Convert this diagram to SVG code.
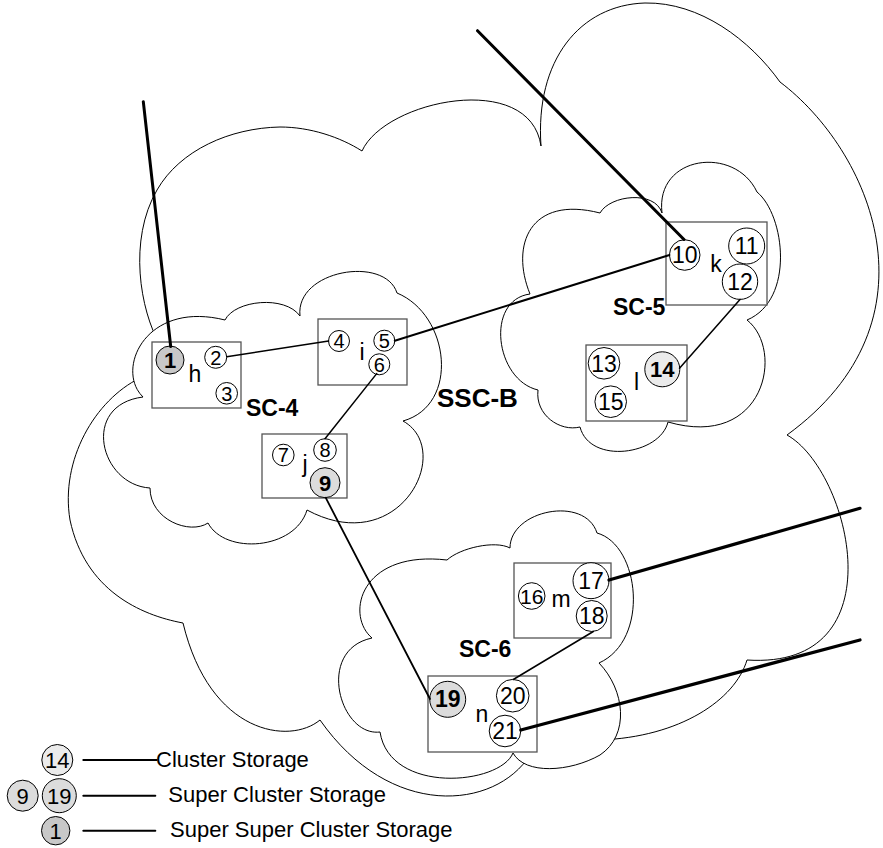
<svg xmlns="http://www.w3.org/2000/svg" width="883" height="848" viewBox="0 0 883 848">
<style>
.cloud{fill:#fff;stroke:#000;stroke-width:1}
.box{fill:#fff;stroke:#555;stroke-width:1.3}
.c{fill:#fff;stroke:#000;stroke-width:1}
.g1{fill:#c8c8c8;stroke:#000;stroke-width:1}
.g2{fill:#dcdcdc;stroke:#000;stroke-width:1}
.g3{fill:#ebebeb;stroke:#000;stroke-width:1}
text{font-family:"Liberation Sans",Arial,sans-serif;fill:#000}
.s{font-size:20px;text-anchor:middle}
.m{font-size:23px;text-anchor:middle}
.b{font-size:22px;font-weight:bold;text-anchor:middle}
.lt{font-size:23px;text-anchor:middle}
.lab{font-size:23px;font-weight:bold}
.leg{font-size:22px}
.lg{font-size:22px;text-anchor:middle}
.ln{stroke:#000;fill:none;stroke-linecap:round}
</style>
<g id="clouds">
<path id="cloud-SSC-B" class="cloud" d="M183,623 C140,615 85,590 70,520 C60,460 95,400 140,378 L160,360 L160,345 C140,310 128,240 157,190 C180,150 230,128 280,127 C310,127 340,137 362,151 C385,100 530,70 541,146 C535,60 580,5 645,3 C700,2 750,40 780,82 C870,150 945,320 787,435 C850,470 900,670 747,660 C735,700 680,737 600,740 L530,755 C495,810 390,820 320,720 C290,745 210,735 183,623 Z"/>
<path id="cloud-SC-4" class="cloud" d="M143,397 C115,370 145,300 225,320 C235,300 285,295 300,316 C295,270 385,255 397,293 C450,315 460,405 403,421 C455,450 400,560 307,510 C295,550 225,555 208,523 C190,535 150,520 150,488 C100,485 80,405 143,397 Z"/>
<path id="cloud-SC-5" class="cloud" d="M530,294 C510,245 530,195 600,213 C610,195 655,190 662,213 C655,155 735,145 757,192 C785,215 795,300 747,320 C785,350 765,450 668,422 C660,455 590,465 580,427 C560,432 535,415 538,390 C495,380 485,300 530,294 Z"/>
<path id="cloud-SC-6" class="cloud" d="M372,638 C345,615 360,550 447,560 C460,548 495,540 510,548 C510,510 585,495 597,533 C640,545 650,640 599,663 C625,690 630,735 600,755 C570,772 525,775 513,753 C500,785 390,795 380,732 C340,737 315,650 372,638 Z"/>
</g>
<g id="labels">
<text class="lab" x="246" y="416">SC-4</text>
<text class="lab" x="613" y="315">SC-5</text>
<text class="lab" x="459" y="657">SC-6</text>
<text class="lab" x="437" y="407" style="font-size:26px">SSC-B</text>
</g>
<g id="node-h">
<rect class="box" x="152" y="342" width="89" height="66"/>
<circle class="g1" cx="170" cy="360" r="14"/><text class="b" x="170" y="367.9">1</text>
<circle class="c" cx="215.7" cy="357.3" r="11"/><text class="s" x="215.7" y="364.5">2</text>
<circle class="c" cx="226.7" cy="393.3" r="10.8"/><text class="s" x="226.7" y="400.5">3</text>
<text class="lt" x="195" y="381.7">h</text>
</g>
<g id="node-i">
<rect class="box" x="318" y="319" width="89" height="66"/>
<circle class="c" cx="339" cy="341" r="10.5"/><text class="s" x="339" y="348.2">4</text>
<circle class="c" cx="384.3" cy="340.7" r="10.5"/><text class="s" x="384.3" y="347.9">5</text>
<circle class="c" cx="379.3" cy="364.3" r="10.5"/><text class="s" x="379.3" y="371.5">6</text>
<text class="lt" x="362" y="360">i</text>
</g>
<g id="node-j">
<rect class="box" x="262" y="434" width="85" height="64"/>
<circle class="c" cx="283.3" cy="455" r="10.8"/><text class="s" x="283.3" y="462.2">7</text>
<circle class="c" cx="325" cy="450" r="11.3"/><text class="s" x="325" y="457.2">8</text>
<circle class="g2" cx="325" cy="482.7" r="15"/><text class="b" x="325" y="490.6">9</text>
<text class="lt" x="305" y="472">j</text>
</g>
<g id="node-k">
<rect class="box" x="666" y="222" width="101" height="83"/>
<circle class="c" cx="684.7" cy="255" r="15.3"/><text class="m" x="684.7" y="263.2">10</text>
<circle class="c" cx="746.7" cy="246" r="18"/><text class="m" x="746.7" y="254.2">11</text>
<circle class="c" cx="740" cy="281.7" r="17.7"/><text class="m" x="740" y="289.9">12</text>
<text class="lt" x="716" y="272">k</text>
</g>
<g id="node-l">
<rect class="box" x="586" y="345" width="101" height="76"/>
<circle class="c" cx="604" cy="363.3" r="15.8"/><text class="m" x="604" y="371.5">13</text>
<circle class="g3" cx="662.3" cy="369.3" r="17.5"/><text class="b" x="662.3" y="377.2">14</text>
<circle class="c" cx="610.7" cy="401.7" r="15.8"/><text class="m" x="610.7" y="409.9">15</text>
<text class="lt" x="636.5" y="390">l</text>
</g>
<g id="node-m">
<rect class="box" x="514" y="563" width="97" height="75"/>
<circle class="c" cx="531.7" cy="596" r="13.3"/><text class="m" x="531.7" y="603.6" style="font-size:21px">16</text>
<circle class="c" cx="591" cy="580.7" r="18"/><text class="m" x="591" y="588.9">17</text>
<circle class="c" cx="591.7" cy="616" r="15.5"/><text class="m" x="591.7" y="624.2">18</text>
<text class="lt" x="561" y="607">m</text>
</g>
<g id="node-n">
<rect class="box" x="428" y="676" width="109" height="76"/>
<circle class="g2" cx="447.7" cy="699.3" r="18"/><text class="b" x="447.7" y="707.4" style="font-size:23px">19</text>
<circle class="c" cx="512.7" cy="695.7" r="16.3"/><text class="m" x="512.7" y="703.9">20</text>
<circle class="c" cx="505" cy="731" r="15.8"/><text class="m" x="505" y="739.2">21</text>
<text class="lt" x="482" y="722">n</text>
</g>
<g id="connectors">
<path class="ln" stroke-width="3" d="M143.3,101.7 L170.7,346.5"/>
<path class="ln" stroke-width="1.5" d="M226.7,356.7 L328.6,341"/>
<path class="ln" stroke-width="2" d="M394.8,340.7 L669.5,255"/>
<path class="ln" stroke-width="3" d="M477.5,30.7 L684,239.5"/>
<path class="ln" stroke-width="1.5" d="M376.7,373.6 L325,438.7"/>
<path class="ln" stroke-width="1.5" d="M740,299.4 L679.5,368.3"/>
<path class="ln" stroke-width="1.8" d="M325.7,497.7 L430,699"/>
<path class="ln" stroke-width="3.2" d="M609,580 L860,508.3"/>
<path class="ln" stroke-width="1.5" d="M593.3,631.5 L513.3,679.5"/>
<path class="ln" stroke-width="3.2" d="M520.8,730 L860,640"/>
</g>
<g id="legend">
<circle class="g3" cx="57.3" cy="760" r="15.5"/><text class="lg" x="57.3" y="767.9">14</text>
<path class="ln" stroke-width="2" d="M83.3,760 L156.7,760"/>
<text class="leg" x="156" y="767">Cluster Storage</text>
<circle class="g2" cx="22.7" cy="795.7" r="15.5"/><text class="lg" x="22.7" y="803.6">9</text>
<circle class="g2" cx="59.3" cy="795.7" r="17"/><text class="lg" x="59.3" y="803.6">19</text>
<path class="ln" stroke-width="2" d="M83.3,795.7 L155.3,795.7"/>
<text class="leg" x="168.3" y="802.3">Super Cluster Storage</text>
<circle class="g1" cx="55.7" cy="830.7" r="14.2"/><text class="lg" x="55.7" y="838.6">1</text>
<path class="ln" stroke-width="2" d="M83.3,830.7 L155.3,830.7"/>
<text class="leg" x="170" y="837">Super Super Cluster Storage</text>
</g>
</svg>
